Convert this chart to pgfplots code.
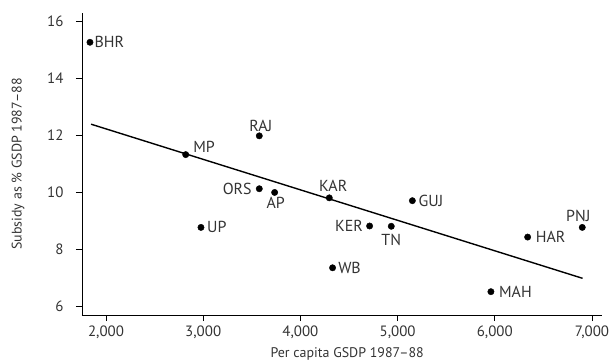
\documentclass[border=0pt]{standalone}
\usepackage{pgfplots}
\pgfplotsset{compat=1.18}
\usepackage{fontspec}
\setmainfont{PT Sans}
\definecolor{txt}{HTML}{333333}
\begin{document}
\begin{tikzpicture}
\begin{axis}[
  at={(0,0)}, anchor=south west,
  scale only axis, width=520bp, height=302bp,
  xmin=1753, xmax=7103, ymin=5.68, ymax=16.3,
  axis lines=left, axis line style={-, line width=0.9pt},
  tick align=outside, tick style={black, line width=0.8pt}, major tick length=6bp,
  xtick={2000,3000,4000,5000,6000,7000},
  ytick={6,8,10,12,14,16},
  /pgf/number format/assume math mode=true,
  /pgf/number format/1000 sep={,},
  tick label style={font=\fontsize{15}{17}\selectfont, text=txt},
  yticklabel style={xshift=-9bp},
  xticklabel style={yshift=-1bp},
  xlabel={Per capita GSDP 1987--88},
  ylabel={Subsidy as \% GSDP 1987--88},
  xlabel style={font=\fontsize{14}{16}\selectfont, text=txt, at={(axis description cs:0.51,-0.129)}, anchor=center},
  ylabel style={font=\fontsize{14}{16}\selectfont, text=txt, at={(axis description cs:-0.123,0.5)}, anchor=center, rotate=0},
  clip=false,
]
\addplot[only marks, mark=*, mark size=3.2pt, black] coordinates {
 (1835,15.27) (2820,11.32) (3577,11.98) (3577,10.12) (3735,9.99) (2977,8.76)
 (4297,9.80) (5152,9.70) (4712,8.81) (4935,8.80) (4331,7.34) (5960,6.50)
 (6338,8.42) (6900,8.76)
};
\addplot[black, line width=1.4pt] coordinates {(1846,12.39) (6903,6.97)};
\begin{scope}[every node/.style={font=\fontsize{16}{18}\selectfont, text=txt, inner sep=1bp}]
\node[anchor=west, xshift=3.5pt] at (axis cs:1835,15.27) {BHR};
\node[anchor=base west, xshift=6.5pt, yshift=2pt] at (axis cs:2820,11.32) {MP};
\node[anchor=south, yshift=3.5pt, xshift=1.5pt] at (axis cs:3577,11.98) {RAJ};
\node[anchor=east, xshift=-6.5pt] at (axis cs:3577,10.12) {ORS};
\node[anchor=north, yshift=-3.5pt, xshift=1pt] at (axis cs:3735,9.99) {AP};
\node[anchor=west, xshift=5pt] at (axis cs:2977,8.76) {UP};
\node[anchor=south, yshift=5pt, xshift=4pt] at (axis cs:4297,9.80) {KAR};
\node[anchor=west, xshift=5pt] at (axis cs:5152,9.70) {GUJ};
\node[anchor=east, xshift=-5.5pt] at (axis cs:4712,8.81) {KER};
\node[anchor=north, yshift=-6.5pt] at (axis cs:4935,8.80) {TN};
\node[anchor=west, xshift=4.5pt] at (axis cs:4331,7.34) {WB};
\node[anchor=west, xshift=7pt] at (axis cs:5960,6.50) {MAH};
\node[anchor=west, xshift=7pt] at (axis cs:6338,8.42) {HAR};
\node[anchor=south, yshift=5pt, xshift=-4pt] at (axis cs:6900,8.76) {PNJ};
\end{scope}
\end{axis}
\pgfresetboundingbox
\path[use as bounding box] (-82bp,-48bp) rectangle (531bp,315bp);
\end{tikzpicture}
\end{document}
